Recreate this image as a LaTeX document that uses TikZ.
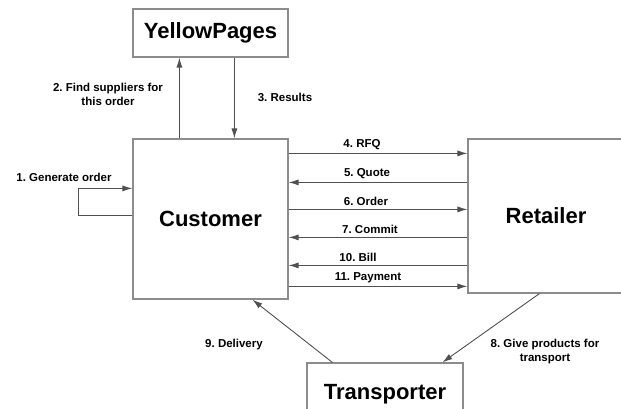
\documentclass[tikz,border=0pt]{standalone}
\usepackage{fontspec}
\setmainfont{Liberation Sans}
\usetikzlibrary{arrows.meta}
\definecolor{edge}{HTML}{8C8C8C}
\definecolor{wire}{HTML}{505050}
\newcommand{\boxfont}{\fontsize{22}{26}\selectfont\bfseries}
\newcommand{\msgfont}{\fontsize{11.5}{14}\selectfont\bfseries}
\frenchspacing

\begin{document}
\begin{tikzpicture}[x=1pt, y=-1pt,
  party/.style={draw=edge, line width=1.2pt, fill=white, inner sep=0pt, font=\boxfont},
  msg/.style={draw=wire, line width=0.9pt, -{Latex[length=10pt,width=6pt]}},
  lbl/.style={font=\msgfont, align=center, inner sep=0pt}]
\useasboundingbox (0,0) rectangle (621,408);
\clip (0,0) rectangle (621,408);

% the four parties
\node[party, minimum width=155pt, minimum height=48pt] (yp) at (210.5,33) {YellowPages};
\node[party, minimum width=155pt, minimum height=160pt] (cust) at (210.5,219) {Customer};
\node[party, minimum width=156pt, minimum height=154pt] (ret) at (546,216) {Retailer};
\node[party, minimum width=156pt, minimum height=62pt] (trans) at (385,394) {Transporter};

% customer <-> yellow pages
\draw[msg] ([yshift=-77pt]cust.north west) -- ++(-54,0) |- ([yshift=-50pt]cust.north west);
\draw[msg] ([xshift=47pt]cust.north west) -- ([xshift=47pt]yp.south west);
\draw[msg] ([xshift=102pt]yp.south west) -- ([xshift=102pt]cust.north west);
\node[lbl] (gen) at (64,177) {1. Generate order};
\node[lbl] (find) at (108,94) {2. Find suppliers for\\this order};
\node[lbl] (res) at (285,97) {3. Results};

% customer <-> retailer
\draw[msg] ([yshift=-15pt]cust.north east) -- ([yshift=-15pt]ret.north west)
  node[lbl, midway, above=3pt, xshift=-16pt] {4. RFQ};
\draw[msg] ([yshift=-44pt]ret.north west) -- ([yshift=-44pt]cust.north east)
  node[lbl, midway, above=3pt, xshift=-11pt] {5. Quote};
\draw[msg] ([yshift=-71pt]cust.north east) -- ([yshift=-71pt]ret.north west)
  node[lbl, midway, above=3pt, xshift=-12pt] {6. Order};
\draw[msg] ([yshift=-99pt]ret.north west) -- ([yshift=-99pt]cust.north east)
  node[lbl, midway, above=3pt, xshift=-8pt] {7. Commit};
\draw[msg] ([yshift=-127pt]ret.north west) -- ([yshift=-127pt]cust.north east)
  node[lbl, midway, above=3pt, xshift=-20pt] {10. Bill};
\draw[msg] ([yshift=-148pt]cust.north east) -- ([yshift=-148pt]ret.north west)
  node[lbl, midway, above=3pt, xshift=-10pt] {11. Payment};

% transporter
\draw[msg] ([xshift=72pt]ret.south west) -- ([xshift=136pt]trans.north west);
\draw[msg] ([xshift=26pt]trans.north west) -- ([xshift=120pt]cust.south west);
\node[lbl] (give) at (545,352) {8. Give products for\\transport};
\node[lbl] (deliv) at (234,345) {9. Delivery};
\end{tikzpicture}
\end{document}
